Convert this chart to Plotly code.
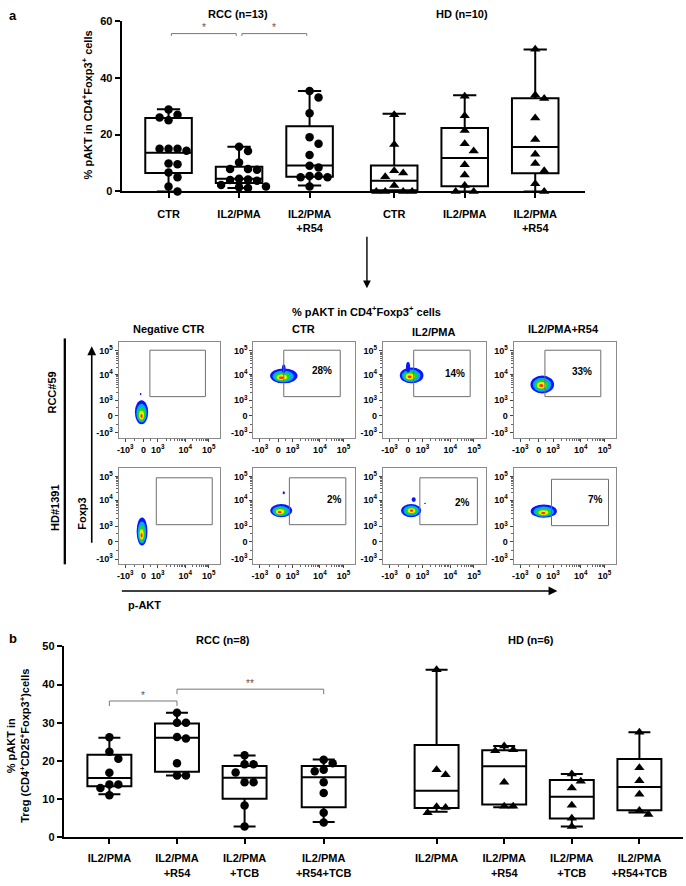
import numpy as np
import plotly.graph_objects as go

W, H = 686, 886
FONT = "Liberation Sans, Arial, sans-serif"


def px(x):
    return x / W


def py(y):
    return 1 - y / H


# ---------------- Panel a data ----------------
a_labels = ["CTR", "IL2/PMA", "IL2/PMA<br>+R54", "CTR", "IL2/PMA", "IL2/PMA<br>+R54"]
a_pos = [0, 1, 2, 3.2, 4.2, 5.2]
a_groups = ["RCC (n=13)", "HD (n=10)"]
a_rcc_ctr = [28.8, 27.0, 26.0, 25.0, 15.0, 15.0, 15.0, 14.3, 9.8, 9.6, 6.7, 5.0, 1.7, 0.0]
a_rcc_il2 = [15.7, 14.2, 10.2, 7.9, 7.9, 7.6, 4.5, 4.2, 4.0, 3.8, 2.3, 1.7, 1.5, 1.2]
a_rcc_r54 = [35.3, 33.0, 27.5, 19.1, 16.8, 12.8, 9.0, 8.4, 5.4, 5.4, 5.0, 5.0, 1.7]
a_hd_ctr = [27.0, 16.5, 7.3, 6.5, 5.2, 2.1, 0.0, 0.0, 0.0, 0.0]
a_hd_il2 = [33.5, 26.6, 21.4, 16.8, 14.2, 9.4, 5.8, 2.1, 0.0, 0.0]
a_hd_r54 = [50.0, 33.9, 32.7, 25.8, 18.3, 13.1, 9.8, 7.3, 2.7, 0.0]
a_values = [a_rcc_ctr, a_rcc_il2, a_rcc_r54, a_hd_ctr, a_hd_il2, a_hd_r54]
a_q1 = [6.5, 3.0, 5.2, 0.4, 1.8, 6.4]
a_med = [13.6, 4.5, 9.1, 3.8, 11.8, 15.6]
a_q3 = [25.8, 8.7, 22.9, 9.1, 22.3, 32.8]
a_lo = [0.0, 1.2, 2.1, 0.0, 0.0, 0.0]
a_hi = [28.9, 15.7, 35.3, 27.3, 33.8, 49.9]
a_sig = [("*", 0, 1, 55.5), ("*", 1, 2, 55.5)]

# ---------------- Panel b data ----------------
b_labels = ["IL2/PMA", "IL2/PMA<br>+R54", "IL2/PMA<br>+TCB", "IL2/PMA<br>+R54+TCB"] * 2
b_pos = [0, 1, 2, 3.17, 4.84, 5.84, 6.84, 7.84]
b_groups = ["RCC (n=8)", "HD (n=6)"]
b_rcc_il2 = [26.2, 22.4, 20.6, 16.9, 13.8, 13.8, 12.9, 11.0]
b_rcc_r54 = [32.6, 30.0, 30.0, 26.3, 25.9, 19.4, 16.2, 16.2]
b_rcc_tcb = [21.5, 19.1, 19.1, 17.0, 14.4, 14.4, 8.3, 2.8]
b_rcc_r54tcb = [20.3, 19.4, 17.7, 17.3, 14.4, 11.6, 6.4, 3.9]
b_hd_il2 = [43.9, 17.7, 16.4, 8.0, 7.8, 6.4]
b_hd_r54 = [23.9, 22.9, 22.7, 14.4, 8.1, 8.1]
b_hd_tcb = [16.6, 14.7, 12.9, 8.4, 5.0, 2.8]
b_hd_r54tcb = [27.5, 18.2, 14.8, 11.3, 7.0, 6.0]
b_values = [b_rcc_il2, b_rcc_r54, b_rcc_tcb, b_rcc_r54tcb,
            b_hd_il2, b_hd_r54, b_hd_tcb, b_hd_r54tcb]
b_q1 = [13.4, 17.2, 10.1, 7.9, 7.7, 8.6, 4.9, 7.1]
b_med = [15.5, 26.1, 15.6, 15.7, 12.2, 18.6, 10.6, 13.2]
b_q3 = [21.6, 29.8, 18.7, 18.7, 24.2, 22.8, 15.0, 20.5]
b_lo = [11.3, 16.2, 2.8, 4.0, 6.7, 7.9, 2.8, 6.5]
b_hi = [26.1, 32.6, 21.4, 20.4, 43.9, 23.9, 16.6, 27.5]
b_sig = [("*", 0, 1, 35.7), ("**", 1, 3, 38.8)]

# ---------------- Flow cytometry data (display units 0..1, biexponential) ----------------
flow_cols = ["Negative CTR", "CTR", "IL2/PMA", "IL2/PMA+R54"]
flow_rows = ["RCC#59", "HD#1391"]
flow_title = "% pAKT in CD4<sup>+</sup>Foxp3<sup>+</sup> cells"
flow_pct = ["", "28%", "14%", "33%", "", "2%", "2%", "7%"]
flow_pct_xy = [(0, 0), (0.68, 0.71), (0.70, 0.68), (0.67, 0.70),
               (0, 0), (0.80, 0.67), (0.78, 0.64), (0.80, 0.67)]
flow_tick_text = ["-10<sup>3</sup>", "0", "10<sup>3</sup>", "10<sup>4</sup>", "10<sup>5</sup>"]
flow_tick_x = [0.065, 0.245, 0.385, 0.655, 0.887]
flow_tick_y = [0.055, 0.235, 0.395, 0.665, 0.91]
# gates: x0, x1, y0, y1
flow_gates = [(0.307, 0.853, 0.433, 0.918), (0.30, 0.855, 0.433, 0.918),
              (0.30, 0.85, 0.433, 0.918), (0.306, 0.85, 0.433, 0.918),
              (0.37, 0.92, 0.41, 0.895), (0.355, 0.91, 0.41, 0.895),
              (0.36, 0.92, 0.41, 0.895), (0.37, 0.925, 0.40, 0.88)]
# population centre, radii and core shift
flow_blob_cx = [0.225, 0.30, 0.28, 0.28, 0.23, 0.275, 0.275, 0.295]
flow_blob_cy = [0.27, 0.65, 0.655, 0.56, 0.34, 0.555, 0.555, 0.55]
flow_blob_rx = [0.065, 0.135, 0.115, 0.115, 0.053, 0.108, 0.098, 0.128]
flow_blob_ry = [0.125, 0.078, 0.083, 0.093, 0.145, 0.068, 0.068, 0.068]
flow_core_dx = [0.0, -0.025, -0.02, -0.01, -0.005, -0.015, 0.005, -0.005]
flow_core_dy = [-0.04, -0.02, -0.015, -0.01, -0.04, -0.015, 0.0, -0.02]
flow_extra = [(0, 0.216, 0.46, 0.008, 0.012), (1, 0.30, 0.725, 0.018, 0.045),
              (2, 0.245, 0.74, 0.02, 0.055), (5, 0.30, 0.74, 0.011, 0.016),
              (6, 0.30, 0.67, 0.02, 0.025), (6, 0.41, 0.63, 0.008, 0.006)]
ring_frac = [1.0, 0.78, 0.57, 0.37, 0.17]
ring_col = ["#0a14ff", "#00aaff", "#1ed81e", "#f2f000", "#ff2a00"]

# ---------------- geometry ----------------
A_X = (120, 585); A_Y = (188, 15)
B_X = (62, 683); B_Y = (842.7, 649.2)
a_xrange = [-0.665, 5.91]
b_xrange = [-0.674, 8.485]
flow_colpx = [(117, 219), (252, 354), (382, 485), (513, 616)]
flow_rowpx = [(341, 438), (468, 566)]


def swarm(vals, xppu, yppu, step=9.0, mind=8.2):
    placed, offs = [], []
    for v in vals:
        yp = v * yppu
        for k in [0, 1, -1, 2, -2, 3, -3, 4, -4]:
            xp = k * step
            if all((xp - a) ** 2 + (yp - b) ** 2 >= mind ** 2 for a, b in placed):
                break
        placed.append((xp, yp))
        offs.append(xp / xppu)
    return offs


fig = go.Figure()
annotations = []
shapes = []
bold = dict(family=FONT, size=11, color="black", weight="bold")


def note(xp, yp, text, font=bold, angle=0, xanchor="center"):
    annotations.append(dict(x=px(xp), y=py(yp), xref="paper", yref="paper", text=text,
                            showarrow=False, font=font, textangle=angle,
                            xanchor=xanchor, yanchor="middle"))


def box_panel(xa, ya, pos, values, q1, med, q3, lo, hi, symbols, xppu, yppu, width):
    fig.add_trace(go.Box(x=pos, q1=q1, median=med, q3=q3, lowerfence=lo, upperfence=hi,
                         width=width, whiskerwidth=0.5, boxpoints=False,
                         line=dict(color="black", width=2), fillcolor="rgba(255,255,255,0)",
                         xaxis=xa, yaxis=ya, showlegend=False, hoverinfo="skip"))
    for p, vals, sym in zip(pos, values, symbols):
        offs = swarm(vals, xppu, yppu)
        fig.add_trace(go.Scatter(x=[p + o for o in offs], y=vals, mode="markers",
                                 marker=dict(symbol=sym, size=8.5 if sym == "circle" else 9,
                                             color="black", line=dict(width=0)),
                                 xaxis=xa, yaxis=ya, showlegend=False, cliponaxis=False,
                                 hoverinfo="skip"))


a_xppu = (A_X[1] - A_X[0]) / (a_xrange[1] - a_xrange[0])
a_yppu = (A_Y[0] - A_Y[1]) / 60
b_xppu = (B_X[1] - B_X[0]) / (b_xrange[1] - b_xrange[0])
b_yppu = (B_Y[0] - B_Y[1]) / 50

box_panel("x", "y", a_pos, a_values, a_q1, a_med, a_q3, a_lo, a_hi,
          ["circle"] * 3 + ["triangle-up"] * 3, a_xppu, a_yppu, 0.66)
box_panel("x2", "y2", b_pos, b_values, b_q1, b_med, b_q3, b_lo, b_hi,
          ["circle"] * 4 + ["triangle-up"] * 4, b_xppu, b_yppu, 0.65)


def brackets(xa, ya, pos, sig, drop, star_dy, shrink):
    for txt, i, j, yv in sig:
        x0, x1 = pos[i] + shrink, pos[j] - shrink
        fig.add_trace(go.Scatter(x=[x0, x0, x1, x1], y=[yv - drop, yv, yv, yv - drop],
                                 mode="lines", line=dict(color="#777", width=1),
                                 xaxis=xa, yaxis=ya, showlegend=False, hoverinfo="skip",
                                 cliponaxis=False))
        annotations.append(dict(x=(x0 + x1) / 2, y=yv + star_dy, xref=xa, yref=ya, text=txt,
                                showarrow=False, xanchor="center", yanchor="middle",
                                font=dict(family=FONT, size=10, color="#555")))


brackets("x", "y", a_pos, a_sig, 0.8, 2.0, 0.04)
brackets("x2", "y2", b_pos, b_sig, 1.3, 1.4, 0.0)

layout = dict(width=W, height=H, margin=dict(l=0, r=0, t=0, b=0), autosize=False,
              paper_bgcolor="white", plot_bgcolor="rgba(0,0,0,0)", showlegend=False,
              font=dict(family=FONT, color="black"))

common_box_axis = dict(showgrid=False, zeroline=False, showline=True, linecolor="black",
                       linewidth=2, ticks="outside", ticklen=5, tickwidth=2, tickcolor="black",
                       tickfont=bold)
layout["xaxis"] = dict(common_box_axis, domain=[px(A_X[0]), px(A_X[1])], range=a_xrange,
                       tickvals=a_pos, ticktext=a_labels, anchor="y", ticklabelstandoff=6)
layout["yaxis"] = dict(common_box_axis, domain=[py(A_Y[0]), py(A_Y[1])], range=[0, 60],
                       tickvals=[0, 20, 40, 60], anchor="x")
layout["xaxis2"] = dict(common_box_axis, domain=[px(B_X[0]), px(B_X[1])], range=b_xrange,
                        tickvals=b_pos, ticktext=b_labels, anchor="y2", ticklabelstandoff=5)
layout["yaxis2"] = dict(common_box_axis, domain=[py(B_Y[0]), py(B_Y[1])], range=[0, 50],
                        tickvals=[0, 10, 20, 30, 40, 50], anchor="x2")


def minor_vals(major):
    m = []
    lo, zero, p3, p4, p5 = major
    for k in range(2, 10):
        m.append(p3 + (p4 - p3) * np.log10(k))
        m.append(p4 + (p5 - p4) * np.log10(k))
    m.append(lo + (zero - lo) * 0.5)
    m.append(zero + (p3 - zero) * 0.5)
    return sorted(m)


flow_axis = dict(showgrid=False, zeroline=False, showline=True, mirror=True, linecolor="#8a8a8a",
                 linewidth=1, ticks="outside", ticklen=3, tickwidth=1, tickcolor="#444",
                 range=[0, 1], ticktext=flow_tick_text,
                 tickfont=dict(family=FONT, size=9, color="black", weight="bold"))

for r in range(2):
    for c in range(4):
        k = r * 4 + c
        n = k + 3
        xa, ya = f"x{n}", f"y{n}"
        layout[f"xaxis{n}"] = dict(flow_axis, domain=[px(flow_colpx[c][0]), px(flow_colpx[c][1])],
                                   tickvals=flow_tick_x, anchor=ya,
                                   minor=dict(tickvals=minor_vals(flow_tick_x), ticks="outside",
                                              ticklen=2, tickcolor="#666"))
        layout[f"yaxis{n}"] = dict(flow_axis, domain=[py(flow_rowpx[r][1]), py(flow_rowpx[r][0])],
                                   tickvals=flow_tick_y, anchor=xa,
                                   minor=dict(tickvals=minor_vals(flow_tick_y), ticks="outside",
                                              ticklen=2, tickcolor="#666"))
        fig.add_trace(go.Scatter(x=[None], y=[None], xaxis=xa, yaxis=ya, showlegend=False))
        cx, cy = flow_blob_cx[k], flow_blob_cy[k]
        rx, ry = flow_blob_rx[k], flow_blob_ry[k]
        for i, (f, col) in enumerate(zip(ring_frac, ring_col)):
            t = i / (len(ring_frac) - 1)
            ccx = cx + flow_core_dx[k] * t
            ccy = cy + flow_core_dy[k] * t
            shapes.append(dict(type="circle", xref=xa, yref=ya, x0=ccx - rx * f, x1=ccx + rx * f,
                               y0=ccy - ry * f, y1=ccy + ry * f, fillcolor=col,
                               line=dict(width=0), layer="above"))
        for (pk, ex, ey, erx, ery) in flow_extra:
            if pk == k:
                shapes.append(dict(type="circle", xref=xa, yref=ya, x0=ex - erx, x1=ex + erx,
                                   y0=ey - ery, y1=ey + ery, fillcolor=ring_col[0],
                                   line=dict(width=0), layer="above"))
        g = flow_gates[k]
        shapes.append(dict(type="rect", xref=xa, yref=ya, x0=g[0], x1=g[1], y0=g[2], y1=g[3],
                           line=dict(color="#6e6e6e", width=1), fillcolor="rgba(0,0,0,0)"))
        if flow_pct[k]:
            annotations.append(dict(x=flow_pct_xy[k][0], y=flow_pct_xy[k][1], xref=xa, yref=ya,
                                    text=flow_pct[k], showarrow=False, xanchor="center",
                                    yanchor="middle",
                                    font=dict(family=FONT, size=10, color="black", weight="bold")))

# column titles
col_title_y = [327, 327, 330, 327]
for c, t in enumerate(flow_cols):
    note((flow_colpx[c][0] + flow_colpx[c][1]) / 2 - 1, col_title_y[c], t)
note(366, 309, flow_title)
note(50, 392, flow_rows[0], angle=-90)
note(53, 509, flow_rows[1], angle=-90)
note(80, 515, "Foxp3", angle=-90)
note(143, 607, "p-AKT")

# arrows
annotations.append(dict(x=px(90), y=py(345), xref="paper", yref="paper", text="", ax=0, ay=198,
                        showarrow=True, arrowhead=2, arrowsize=1.1, arrowwidth=1.6, arrowcolor="black"))
annotations.append(dict(x=px(557), y=py(593), xref="paper", yref="paper", text="", ax=-437, ay=0,
                        showarrow=True, arrowhead=2, arrowsize=1.1, arrowwidth=1.6, arrowcolor="black"))
annotations.append(dict(x=px(366), y=py(286), xref="paper", yref="paper", text="", ax=0, ay=-53,
                        showarrow=True, arrowhead=2, arrowsize=1.1, arrowwidth=1.4, arrowcolor="black"))
shapes.append(dict(type="line", xref="paper", yref="paper", x0=px(63), x1=px(63), y0=py(337), y1=py(566),
                   line=dict(color="black", width=2.3)))

# panel titles / group labels
big = dict(family=FONT, size=13, color="black", weight="bold")
note(5, 10, "a", font=big, xanchor="left")
note(5, 641, "b", font=big, xanchor="left")
note(237, 8, a_groups[0])
note(461, 8, a_groups[1])
note(222, 643, b_groups[0])
note(531, 643, b_groups[1])
note(85, 100, "% pAKT in CD4<sup>+</sup>Foxp3<sup>+</sup> cells", angle=-90)
note(16, 750, "% pAKT in<br>Treg (CD4<sup>+</sup>CD25<sup>+</sup>Foxp3<sup>+</sup>)cells", angle=-90)

layout["annotations"] = annotations
layout["shapes"] = shapes
fig.update_layout(**layout)
fig.write_html("out.html", config={"displayModeBar": False},
               post_script="document.body.style.margin='0px';")
